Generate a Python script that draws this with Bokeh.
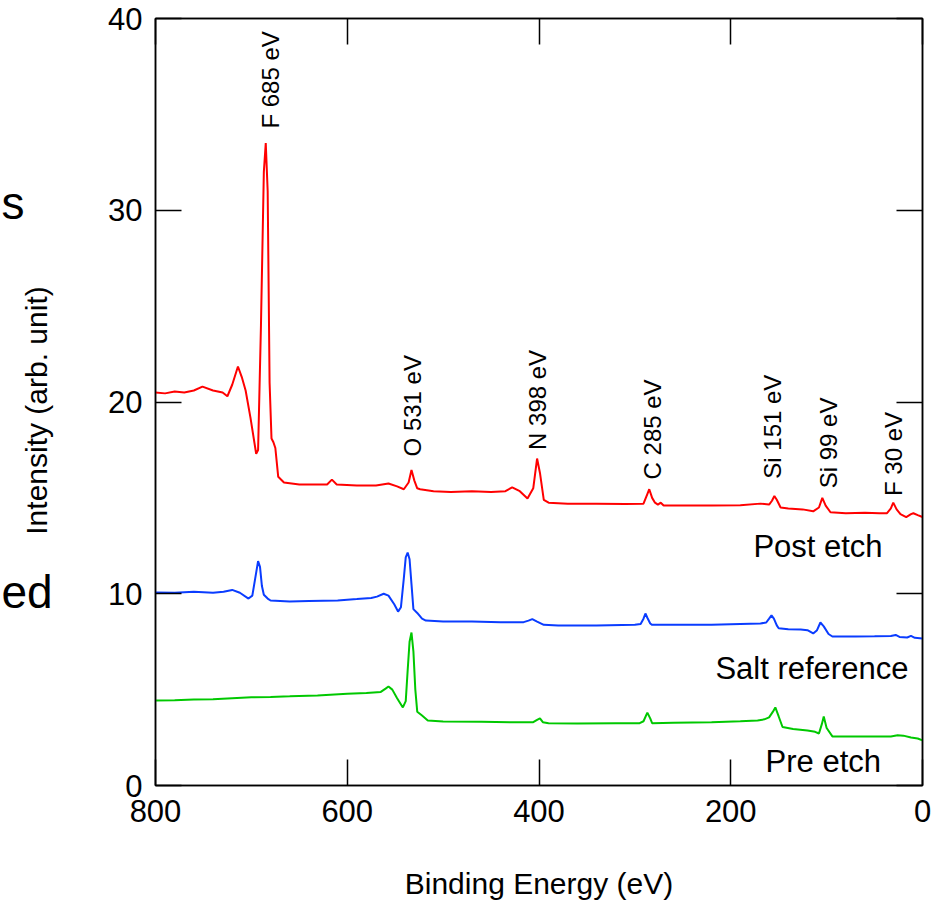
from math import pi

from bokeh.plotting import figure
from bokeh.layouts import row
from bokeh.models import Range1d, LinearAxis, FixedTicker, Label
from bokeh.core.properties import value
from bokeh.embed import file_html
from bokeh.resources import INLINE

# ---------------- data ----------------
# Post etch survey spectrum (binding energy in eV, intensity in arb. units)
post_energy = [800, 790, 780, 770, 760, 751, 740, 730, 725, 720, 714, 710, 706, 701,
               695, 693, 690, 687, 685, 683, 681, 679, 677, 675, 672, 666, 650, 630,
               621, 616, 611, 590, 570, 557, 548, 541, 536, 533, 530, 527, 524, 510,
               492, 470, 450, 435, 428, 420, 412, 406, 402, 399, 395, 390, 370, 340,
               310, 291, 287, 285, 282, 279, 276, 273, 270, 250, 220, 190, 169, 160,
               157, 154.5, 152, 148, 140, 125, 114, 108, 104.5, 101, 96, 80, 60, 45,
               37, 33, 30.5, 27, 23, 17, 12, 9.5, 5, 0]
post_intensity = [20.5, 20.45, 20.55, 20.5, 20.6, 20.8, 20.6, 20.5, 20.3, 20.9, 21.85, 21.3, 20.6, 19.2,
                  17.3, 17.5, 24.0, 32.0, 33.5, 31.0, 21.0, 18.1, 17.9, 17.6, 16.1, 15.8, 15.7, 15.7,
                  15.7, 15.95, 15.7, 15.65, 15.65, 15.75, 15.6, 15.45, 15.8, 16.45, 15.9, 15.5, 15.45, 15.35,
                  15.3, 15.35, 15.3, 15.35, 15.55, 15.35, 14.97, 15.5, 17.05, 16.3, 14.9, 14.75, 14.7, 14.7,
                  14.68, 14.7, 15.2, 15.45, 15.0, 14.75, 14.65, 14.75, 14.6, 14.6, 14.6, 14.62, 14.7, 14.65,
                  14.85, 15.1, 14.9, 14.5, 14.45, 14.4, 14.3, 14.5, 15.0, 14.6, 14.25, 14.2, 14.22, 14.2,
                  14.2, 14.45, 14.75, 14.4, 14.15, 14.0, 14.15, 14.2, 14.1, 14.0]

# Salt reference survey spectrum
salt_energy = [800, 780, 760, 740, 729, 720, 712, 703, 699, 696, 693, 691, 689, 687,
               683, 680, 660, 640, 610, 590, 575, 569, 562, 557, 551, 547, 544, 541,
               539, 537, 535, 533, 531, 527, 522, 518, 500, 470, 440, 416, 411, 407,
               402, 395, 380, 340, 300, 294, 291, 289, 287, 284, 282, 260, 220, 190,
               169, 163, 160, 157.5, 155, 152, 150, 140, 127, 120, 114, 110, 106.5, 103,
               98, 94, 70, 50, 33, 28, 24, 16, 12, 8, 0]
salt_intensity = [10.07, 10.05, 10.1, 10.05, 10.1, 10.2, 10.05, 9.75, 9.9, 10.8, 11.7, 11.4, 10.4, 9.95,
                  9.75, 9.65, 9.6, 9.62, 9.65, 9.72, 9.78, 9.85, 10.0, 9.9, 9.45, 9.07, 9.3, 10.8,
                  11.9, 12.15, 11.8, 10.5, 9.2, 9.0, 8.7, 8.6, 8.55, 8.55, 8.52, 8.52, 8.6, 8.68,
                  8.55, 8.38, 8.35, 8.35, 8.38, 8.42, 8.7, 8.97, 8.75, 8.45, 8.38, 8.38, 8.38, 8.42,
                  8.45, 8.5, 8.7, 8.87, 8.7, 8.35, 8.2, 8.15, 8.13, 8.1, 7.93, 8.1, 8.5, 8.3,
                  7.9, 7.77, 7.77, 7.78, 7.8, 7.85, 7.75, 7.72, 7.8, 7.7, 7.67]

# Pre etch survey spectrum
pre_energy = [800, 780, 760, 740, 720, 700, 680, 660, 631, 600, 580, 565, 560, 557,
              553, 548, 542, 539, 537, 535, 533, 531, 529, 527, 522, 516, 500, 460,
              430, 406, 402, 399, 396, 390, 360, 320, 295, 291, 287, 284, 282, 260,
              220, 190, 172, 165, 160, 156, 153.5, 150, 146, 135, 120, 112, 108, 105,
              103, 100, 94, 70, 40, 33, 26, 20, 12, 5, 0]
pre_intensity = [4.43, 4.45, 4.48, 4.5, 4.55, 4.6, 4.62, 4.65, 4.7, 4.78, 4.82, 4.88, 5.05, 5.16,
                 5.0, 4.55, 4.07, 4.4, 6.0, 7.5, 7.98, 7.0, 5.0, 3.85, 3.65, 3.39, 3.34, 3.33,
                 3.3, 3.3, 3.42, 3.5, 3.3, 3.25, 3.23, 3.25, 3.25, 3.35, 3.8, 3.5, 3.25, 3.27,
                 3.3, 3.35, 3.39, 3.45, 3.55, 3.85, 4.07, 3.6, 3.05, 2.95, 2.87, 2.8, 2.71, 3.2,
                 3.6, 3.0, 2.56, 2.55, 2.56, 2.56, 2.62, 2.6, 2.5, 2.45, 2.35]

# Peak assignments: text, energy of the label column, intensity where the text starts
peak_labels = ["F 685 eV", "O 531 eV", "N 398 eV", "C 285 eV", "Si 151 eV", "Si 99 eV", "F 30 eV"]
peak_label_energy = [680, 532, 401.6, 281.7, 156.6, 98.2, 30.4]
peak_label_intensity = [34.26, 17.16, 17.5, 15.96, 16.0, 15.5, 15.1]

# Series names with their anchor points
series_names = ["Post etch", "Salt reference", "Pre etch"]
series_name_energy = [176.4, 216, 163.7]
series_name_intensity = [12.46, 6.10, 1.23]

x_ticks = [0, 200, 400, 600, 800]
y_ticks = [0, 10, 20, 30, 40]

FONT = "Liberation Sans"
W, H = 943, 903
STRIP_W = 60
FRAME_TOP, FRAME_BOTTOM = 18, 785

# ---------------- left margin strip (y title and word endings) ----------------
# its frame lines up with the main frame, so y runs in page pixels from the top
strip = figure(width=STRIP_W, height=H,
               x_range=Range1d(0, STRIP_W), y_range=Range1d(FRAME_BOTTOM, FRAME_TOP),
               x_axis_type=None, y_axis_type=None,
               output_backend="svg", toolbar_location=None,
               min_border=0, outline_line_color=None)
strip.grid.visible = False
strip.text(x=[36], y=[410], text=["Intensity (arb. unit)"], angle=pi / 2,
           text_align="center", text_baseline="middle",
           text_font=value(FONT), text_font_size="30px", text_color="black")
strip.text(x=[1, 1], y=[202, 591], text=["s", "ed"],
           text_align="left", text_baseline="middle",
           text_font=value(FONT), text_font_size="46px", text_color="black")

# ---------------- main plot ----------------
p = figure(width=W - STRIP_W, height=H,
           x_range=Range1d(800, 0), y_range=Range1d(0, 40),
           output_backend="svg", toolbar_location=None,
           min_border_left=155 - STRIP_W, min_border_right=21,
           min_border_top=FRAME_TOP, min_border_bottom=H - FRAME_BOTTOM,
           x_axis_label="Binding Energy (eV)")
p.grid.visible = False
p.outline_line_color = "black"
p.outline_line_width = 1.5
p.background_fill_color = "white"
p.border_fill_color = "white"


def style_axis(ax, show_labels=True):
    ax.axis_line_color = "black"
    ax.axis_line_width = 1.5
    ax.major_tick_line_color = "black"
    ax.major_tick_line_width = 1.5
    ax.major_tick_in = 26
    ax.major_tick_out = 0
    ax.minor_tick_line_color = None
    ax.major_label_text_font = FONT
    ax.major_label_text_font_size = "31px"
    ax.major_label_text_color = "black"
    ax.axis_label_text_font = FONT
    ax.axis_label_text_font_size = "30px"
    ax.axis_label_text_font_style = "normal"
    ax.axis_label_text_color = "black"
    if not show_labels:
        ax.major_label_text_font_size = "0px"
        ax.major_label_text_color = None


style_axis(p.xaxis[0])
style_axis(p.yaxis[0])
p.xaxis[0].ticker = FixedTicker(ticks=x_ticks)
p.yaxis[0].ticker = FixedTicker(ticks=y_ticks)
p.xaxis[0].major_label_standoff = 14
p.xaxis[0].axis_label_standoff = 42
p.yaxis[0].major_label_standoff = 13

top_axis = LinearAxis(ticker=FixedTicker(ticks=x_ticks))
right_axis = LinearAxis(ticker=FixedTicker(ticks=y_ticks))
style_axis(top_axis, show_labels=False)
style_axis(right_axis, show_labels=False)
p.add_layout(top_axis, "above")
p.add_layout(right_axis, "right")

# spectra
p.line(post_energy, post_intensity, line_color="#ff0000", line_width=2)
p.line(salt_energy, salt_intensity, line_color="#0a3cff", line_width=2)
p.line(pre_energy, pre_intensity, line_color="#00c800", line_width=2)

# peak assignments, written upwards
for txt, ex, iy in zip(peak_labels, peak_label_energy, peak_label_intensity):
    p.add_layout(Label(x=ex, y=iy, text=txt, angle=pi / 2, angle_units="rad",
                       text_align="left", text_baseline="middle",
                       text_font=FONT, text_font_size="24px", text_color="black"))

# series names
for txt, ex, iy in zip(series_names, series_name_energy, series_name_intensity):
    p.add_layout(Label(x=ex, y=iy, text=txt, text_align="left",
                       text_baseline="middle", text_font=FONT,
                       text_font_size="31px", text_color="black"))

layout = row(strip, p, spacing=0)
open("out.html", "w").write(file_html(layout, INLINE))
